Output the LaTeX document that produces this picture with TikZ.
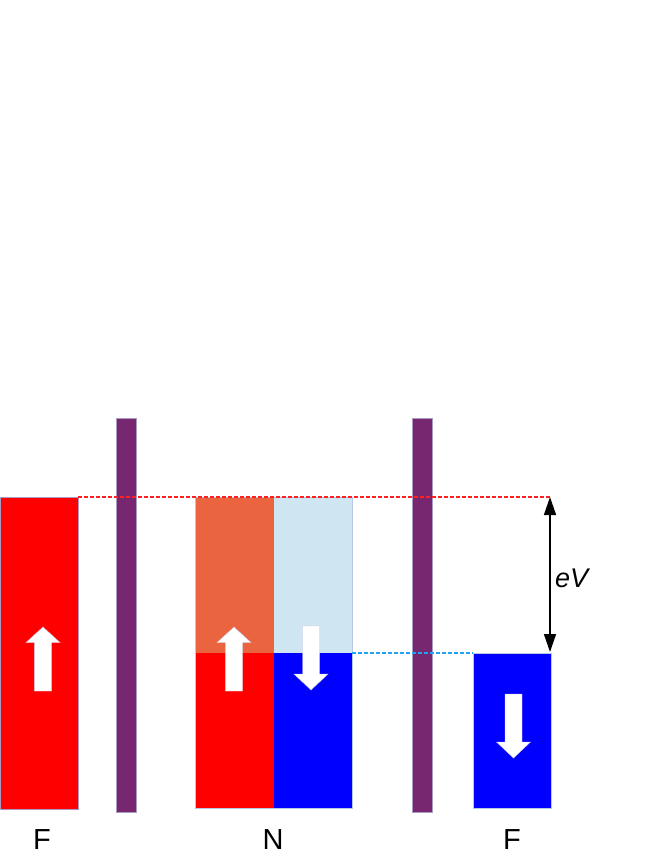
\documentclass[tikz,border=0pt]{standalone}
\usepackage{fontspec}
\setmainfont{Liberation Sans}
\usetikzlibrary{arrows.meta}
\definecolor{barpurple}{HTML}{772670}
\definecolor{coral}{HTML}{EA6440}
\definecolor{paleblue}{HTML}{D0E5F2}
\definecolor{pureblue}{HTML}{0000FF}
\definecolor{purered}{HTML}{FF0000}
\definecolor{dotred}{HTML}{FF2020}
\definecolor{dotcyan}{HTML}{1EA4F0}
\definecolor{edgeblue}{HTML}{B4C7E7}
\definecolor{edgegray}{HTML}{A99BC4}
\newcommand\myuparrow[2]{%
  \fill[white, draw=edgegray!60, line width=0.4pt] (#1,#2) -- ++(17,15.5) -- ++(-8.3,0) -- ++(0,48.5) -- ++(-17.4,0) -- ++(0,-48.5) -- ++(-8.3,0) -- cycle;}
\newcommand\mydownarrow[2]{%
  \fill[white, draw=edgegray!60, line width=0.4pt] (#1,#2) -- ++(-17,-16) -- ++(8.5,0) -- ++(0,-48) -- ++(17,0) -- ++(0,48) -- ++(8.5,0) -- cycle;}
\newcommand\labelfont{\fontsize{29}{34}\selectfont}
\newcommand\evfont{\fontsize{27}{32}\selectfont}
\begin{document}
\begin{tikzpicture}[x=1pt,y=-1pt,
  block/.style={inner sep=0pt, outer sep=0pt, anchor=north west},
  barrier/.style={block, fill=barpurple, draw=edgegray, line width=0.4pt, minimum width=20pt, minimum height=394pt},
  dotline/.style={line width=1.8pt, dash pattern=on 3.5pt off 2.5pt},
  lbl/.style={font=\labelfont, anchor=base, inner sep=0pt}]
\useasboundingbox (0,0) rectangle (664,860);
% left ferromagnet
\node[block, fill=purered, draw=edgegray, line width=0.4pt, minimum width=78pt, minimum height=312pt] (FL) at (0,497) {};
% barriers
\node[barrier] (B1) at (116,418) {};
\node[barrier] (B2) at (412,418) {};
% normal metal
\node[block, fill=coral, minimum width=78.5pt, minimum height=156pt] (NUL) at (195,497) {};
\node[block, fill=paleblue, minimum width=78.5pt, minimum height=156pt] (NUR) at (273.5,497) {};
\node[block, fill=purered, minimum width=78.5pt, minimum height=155pt] (NLL) at (195,653) {};
\node[block, fill=pureblue, minimum width=78.5pt, minimum height=155pt] (NLR) at (273.5,653) {};
\draw[edgeblue, line width=0.8pt] (NUL.north west) rectangle (NLR.south east);
% right ferromagnet
\node[block, fill=pureblue, draw=edgeblue, line width=0.4pt, minimum width=78pt, minimum height=155pt] (FR) at (473,653) {};
% spin arrows
\myuparrow{43}{627}
\myuparrow{234}{627}
\mydownarrow{311}{690}
\mydownarrow{513.5}{758}
% levels
\coordinate (evtop) at (550,497);
\coordinate (evbot) at (550,652);
\draw[dotline, dotred] (FL.north east) -- (evtop);
\draw[dotline, dotcyan] (NUR.south east) -- (FR.north west);
\draw[line width=1.5pt, {Triangle[length=18pt,width=12pt]}-{Triangle[length=18pt,width=12pt]}] (evtop) -- (evbot);
\node[lbl, font=\evfont, anchor=base west] (eV) at (555,587) {\textit{eV}};
% labels
\node[lbl] (lF1) at (42,849) {F};
\node[lbl] (lN) at (273,849) {N};
\node[lbl] (lF2) at (512,849) {F};
\end{tikzpicture}
\end{document}
